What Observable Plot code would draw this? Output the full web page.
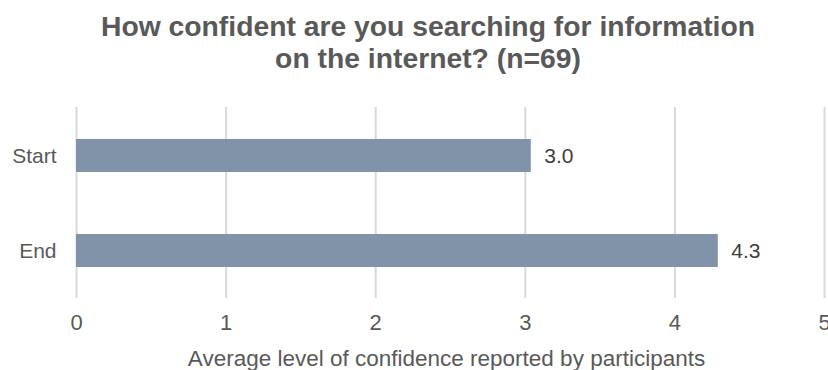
<!DOCTYPE html>
<html>
<head>
<meta charset="utf-8">
<script src="https://cdn.jsdelivr.net/npm/d3@7"></script>
<script src="https://cdn.jsdelivr.net/npm/@observablehq/plot@0.6"></script>
<style>
  html, body { margin: 0; padding: 0; background: #fff; overflow: hidden; }
  #title { width: 828px; height: 90px; box-sizing: border-box; padding-top: 10px; padding-left: 28px;
    text-align: center; font-family: "Liberation Sans", Arial, sans-serif; font-weight: bold;
    font-size: 28.3px; line-height: 32px; color: #595959; white-space: nowrap; }
</style>
</head>
<body>
<div id="title">How confident are you searching for information<br>on the internet? (n=69)</div>
<div id="chart"></div>
<script>
const categories = ["Start", "End"];
const values = [3.04, 4.29];
const valueLabels = ["3.0", "4.3"];
const xTicks = [0, 1, 2, 3, 4, 5];
const xLabel = "Average level of confidence reported by participants";

const data = categories.map((c, i) => ({cat: c, v: values[i], lab: valueLabels[i]}));

const chart = Plot.plot({
  width: 828,
  height: 280,
  marginLeft: 76,
  marginRight: 4,
  marginTop: 17,
  marginBottom: 72,
  style: {fontFamily: "'Liberation Sans', Arial, sans-serif", fontSize: "21px", color: "#595959", background: "#fff", overflow: "visible"},
  x: {domain: [0, 5], ticks: xTicks, tickFormat: d3.format("d")},
  y: {domain: categories, paddingInner: 0.656, paddingOuter: 0.323, label: null},
  marks: [
    Plot.gridX(xTicks, {stroke: "#d9d9d9", strokeOpacity: 1, strokeWidth: 2}),
    Plot.barX(data, {x: "v", y: "cat", fill: "#8093a8"}),
    Plot.text(data, {x: "v", y: "cat", text: "lab", textAnchor: "start", dx: 13, fill: "#404040", fontSize: 21}),
    Plot.axisY({tickSize: 0, tickPadding: 20, label: null, fill: "#595959", fontSize: 21}),
    Plot.axisX(xTicks, {tickSize: 0, tickPadding: 16, label: null, fill: "#595959", fontSize: 22, tickFormat: d3.format("d")}),
    Plot.text([xLabel], {frameAnchor: "bottom", lineAnchor: "middle", dy: 60, dx: -4, text: d => d, fill: "#595959", fontSize: 22.5, letterSpacing: "0.6px"})
  ]
});
document.getElementById("chart").appendChild(chart);
</script>
</body>
</html>
